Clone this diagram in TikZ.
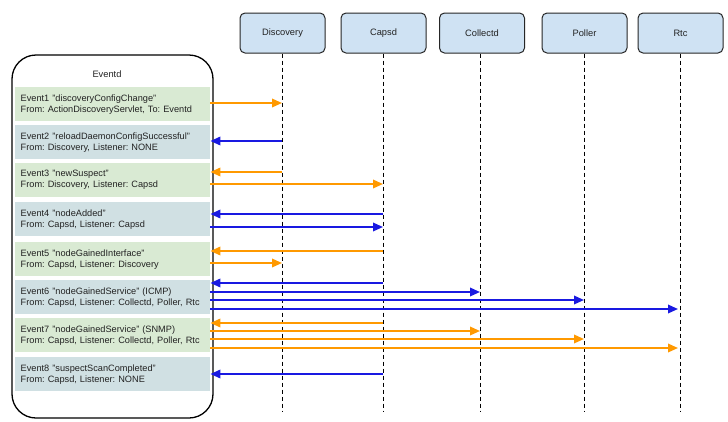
\documentclass[tikz,border=0pt]{standalone}
\usepackage{fontspec}
\setmainfont{Liberation Sans}
\frenchspacing
\usetikzlibrary{arrows.meta}
\definecolor{evgreen}{HTML}{D9EAD3}
\definecolor{evblue}{HTML}{D0E0E3}
\definecolor{hdrblue}{HTML}{CFE2F3}
\definecolor{arrorange}{RGB}{255,153,0}
\definecolor{arrblue}{RGB}{25,25,225}
\definecolor{txt}{HTML}{222222}
\tikzset{
  hdr/.style={draw=black!85, line width=1pt, rounded corners=5pt, fill=hdrblue,
    minimum width=85pt, minimum height=40pt, inner sep=0pt, font=\fontsize{9.3}{11}\selectfont, text=txt},
  evbox/.style={anchor=north west, minimum width=194pt, minimum height=34pt, text width=184pt,
    inner xsep=5.5pt, inner ysep=0pt, align=left, font=\fontsize{9.2}{11}\selectfont, text=txt},
  lifeline/.style={dashed, dash pattern=on 4pt off 3pt, line width=0.8pt, black},
  oarr/.style={draw=arrorange, line width=1.8pt, -{Triangle[length=10pt,width=8.5pt]}, arrorange},
  barr/.style={draw=arrblue, line width=1.8pt, -{Triangle[length=10pt,width=8.5pt]}, arrblue},
}
\begin{document}
\begin{tikzpicture}[x=1pt,y=-1pt]
\useasboundingbox (0,0) rectangle (728,421);
\fill[white] (0,0) rectangle (728,421);
% Eventd container
\draw[line width=1.3pt, rounded corners=24pt] (12,55) rectangle (213,418);
\node[font=\fontsize{9.3}{11}\selectfont, text=txt] (eventd) at (107,74) {Eventd};
% Headers
\node[hdr] (disc) at (282.5,33) {Discovery};
\node[hdr] (caps) at (383.5,33) {Capsd};
\node[hdr] (coll) at (482,33) {Collectd};
\node[hdr] (poll) at (584.5,33) {Poller};
\node[hdr] (rtc) at (680.5,33) {Rtc};
% lifelines
\coordinate (discE) at (282,411);
\coordinate (capsE) at (383,411);
\coordinate (collE) at (480,411);
\coordinate (pollE) at (584,411);
\coordinate (rtcE) at (680,411);
\draw[lifeline] (disc.south -| discE) -- (discE);
\draw[lifeline] (caps.south -| capsE) -- (capsE);
\draw[lifeline] (coll.south -| collE) -- (collE);
\draw[lifeline] (poll.south -| pollE) -- (pollE);
\draw[lifeline] (rtc.south -| rtcE) -- (rtcE);
% Event boxes
\node[evbox, fill=evgreen] (ev1) at (15,87) {Event1 "discoveryConfigChange"\\From: ActionDiscoveryServlet, To: Eventd};
\node[evbox, fill=evblue] (ev2) at (15,125) {Event2 "reloadDaemonConfigSuccessful"\\From: Discovery, Listener: NONE};
\node[evbox, fill=evgreen] (ev3) at (15,163) {Event3 "newSuspect"\\From: Discovery, Listener: Capsd};
\node[evbox, fill=evblue] (ev4) at (15,202) {Event4 "nodeAdded"\\From: Capsd, Listener: Capsd};
\node[evbox, fill=evgreen] (ev5) at (15,242) {Event5 "nodeGainedInterface"\\From: Capsd, Listener: Discovery};
\node[evbox, fill=evblue] (ev6) at (15,280) {Event6 "nodeGainedService" (ICMP)\\From: Capsd, Listener: Collectd, Poller, Rtc};
\node[evbox, fill=evgreen] (ev7) at (15,318) {Event7 "nodeGainedService" (SNMP)\\From: Capsd, Listener: Collectd, Poller, Rtc};
\node[evbox, fill=evblue] (ev8) at (15,357) {Event8 "suspectScanCompleted"\\From: Capsd, Listener: NONE};
% Arrows
\draw[oarr] (ev1.east |- 0,103) -- (discE |- 0,103);
\draw[barr] (discE |- 0,141) -- (ev2.east |- 0,141);
\draw[oarr] (discE |- 0,172) -- (ev3.east |- 0,172);
\draw[oarr] (ev3.east |- 0,184) -- (capsE |- 0,184);
\draw[barr] (capsE |- 0,214) -- (ev4.east |- 0,214);
\draw[barr] (ev4.east |- 0,227) -- (capsE |- 0,227);
\draw[oarr] (capsE |- 0,251) -- (ev5.east |- 0,251);
\draw[oarr] (ev5.east |- 0,263) -- (discE |- 0,263);
\draw[barr] (capsE |- 0,283) -- (ev6.east |- 0,283);
\draw[barr] (ev6.east |- 0,292) -- (collE |- 0,292);
\draw[barr] (ev6.east |- 0,300) -- (pollE |- 0,300);
\draw[barr] (ev6.east |- 0,309) -- ([xshift=-2pt]rtcE |- 0,309);
\draw[oarr] (capsE |- 0,323) -- (ev7.east |- 0,323);
\draw[oarr] (ev7.east |- 0,331) -- (collE |- 0,331);
\draw[oarr] (ev7.east |- 0,339) -- (pollE |- 0,339);
\draw[oarr] (ev7.east |- 0,348) -- ([xshift=-2pt]rtcE |- 0,348);
\draw[barr] (capsE |- 0,374) -- (ev8.east |- 0,374);
\end{tikzpicture}
\end{document}
